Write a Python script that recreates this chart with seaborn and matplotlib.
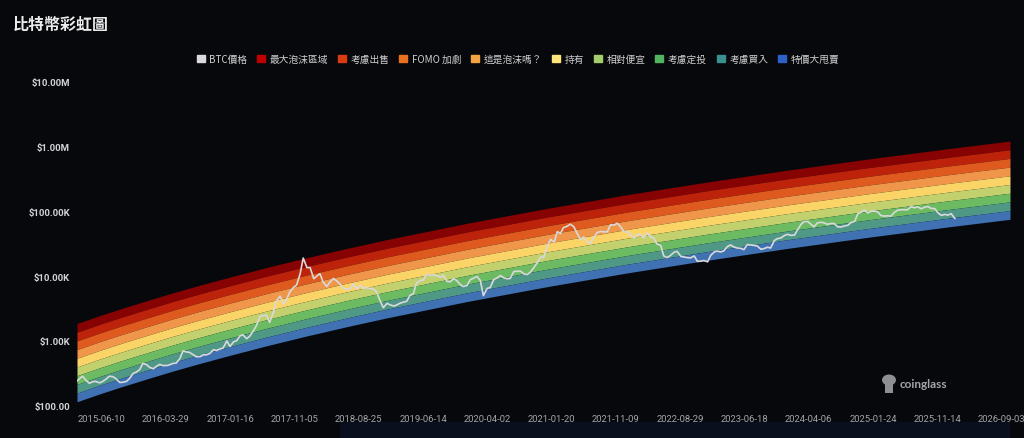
import pandas as pd
import matplotlib.pyplot as plt
import matplotlib.ticker as mticker
from matplotlib.patches import Patch, Rectangle, Ellipse
import seaborn as sns

# rainbow bands, listed top to bottom
band_names = ['最大泡沫區域', '考慮出售', 'FOMO 加劇', '這是泡沫嗎？', '持有',
              '相對便宜', '考慮定投', '考慮買入', '特價大甩賣']
band_dates = ['2015-02-18', '2015-06-01', '2015-09-01', '2016-01-01', '2016-05-01',
              '2016-09-01', '2017-01-01', '2017-07-01', '2018-01-01', '2018-07-01',
              '2019-01-01', '2020-01-01', '2021-01-01', '2022-01-01', '2023-01-01',
              '2024-01-01', '2025-01-01', '2026-01-01', '2026-10-10']
# lower edge of the lowest band (USD)
band_floor = [115, 152, 192, 258, 343, 450, 582, 841, 1194, 1656, 2270, 4055, 6890,
              11220, 17580, 26790, 39720, 57410, 75300]
band_ratio = 1.362  # each band edge is this many times the one below

# BTC price, twice a month (1st and 15th) from 2015-02-15
price_2015 = [235, 260, 285, 245, 222, 235, 237, 225, 237, 258, 285, 280, 260, 228, 230,
              237, 262, 315, 330, 362, 450]
price_2016 = [430, 390, 372, 405, 435, 415, 417, 428, 450, 455, 535, 700, 675, 665, 610,
              570, 572, 608, 612, 640, 730, 710, 750, 780]
price_2017 = [1000, 820, 970, 1010, 1190, 1240, 1080, 1180, 1420, 1700, 2400, 2450, 2500,
              1930, 2750, 4150, 4900, 3700, 4400, 5700, 6700, 7300, 10900, 19000]
price_2018 = [13500, 13600, 9100, 10000, 10900, 8200, 6900, 8000, 9200, 8500, 7500, 6500,
              6350, 6250, 7600, 6300, 7200, 6500, 6600, 6450, 6340, 5600, 4100, 3250]
price_2019 = [3800, 3600, 3450, 3600, 3820, 3950, 4100, 5030, 5350, 7800, 8550, 8700,
              10600, 10300, 10400, 10200, 9600, 10300, 8300, 8150, 9150, 8500, 7400, 6900]
price_2020 = [7200, 8800, 9350, 9900, 8550, 5000, 6450, 6650, 8800, 9300, 10200, 9450,
              9100, 9200, 11800, 11850, 11900, 10800, 10600, 11500, 13700, 16000, 19700, 19400]
price_2021 = [29400, 36800, 33500, 48700, 45200, 56000, 58800, 63300, 57800, 46500, 36700,
              40100, 33500, 31800, 39900, 47000, 48800, 48100, 48200, 61600, 61300, 65500,
              57200, 48900]
price_2022 = [47700, 43100, 38700, 44500, 43200, 39300, 46300, 40500, 38500, 31300, 29800,
              20500, 19300, 20800, 23300, 24100, 20100, 19700, 19300, 19100, 20500, 16900,
              17000, 17400]
price_2023 = [16600, 20900, 23700, 24300, 23600, 24400, 28500, 30300, 28100, 27200, 26800,
              25600, 30600, 30300, 29700, 29200, 25900, 26600, 27900, 27100, 35400, 37900,
              38700, 42000]
price_2024 = [44200, 42500, 43000, 52000, 62400, 69500, 69700, 63400, 57800, 66300, 67800,
              66200, 62900, 64800, 64600, 57500, 57300, 59200, 60800, 67000, 69500, 91000,
              97200, 104300]
price_2025 = [94400, 100500, 100600, 97500, 86000, 84300, 85200, 83700, 96500, 103700,
              105700, 105500, 105700, 117800, 113300, 117400, 109200, 115400, 118600, 111000,
              110000, 95500, 86300, 89500]
price_2026 = [87500, 92000, 77000]

x_tick_labels = ['2015-06-10', '2016-03-29', '2017-01-16', '2017-11-05', '2018-08-25',
                 '2019-06-14', '2020-04-02', '2021-01-20', '2021-11-09', '2022-08-29',
                 '2023-06-18', '2024-04-06', '2025-01-24', '2025-11-14', '2026-09-03']
y_ticks = [1e2, 1e3, 1e4, 1e5, 1e6, 1e7]
y_tick_labels = ['$100.00', '$1.00K', '$10.00K', '$100.00K', '$1.00M', '$10.00M']

band_colors = ['#870202', '#bd220b', '#df5a1e', '#ef964a', '#fbd467',
               '#c2d16e', '#6cba62', '#4f9886', '#3f71b3']
legend_colors = ['#c00000', '#d83c10', '#e8701e', '#f2a440', '#fde57c',
                 '#a2cd6a', '#50b55e', '#3a8f8f', '#2f5fc8']
bg = '#07080c'

sns.set_theme(style='dark')
plt.rcParams['font.family'] = ['Noto Sans CJK TC', 'DejaVu Sans']

prices = (price_2015 + price_2016 + price_2017 + price_2018 + price_2019 + price_2020 +
          price_2021 + price_2022 + price_2023 + price_2024 + price_2025 + price_2026)
df = pd.DataFrame({'date': pd.date_range('2015-02-15', periods=len(prices), freq='SMS'),
                   'price': prices})
bd = pd.to_datetime(band_dates)

fig = plt.figure(figsize=(10.24, 4.39), dpi=100, facecolor=bg)
ax = fig.add_axes([77 / 1024, 1 - 406.7 / 439, 933 / 1024, (406.7 - 82.7) / 439])
ax.set_facecolor(bg)
ax.set_yscale('log')

n = len(band_names)
for i in range(n):
    k = n - 1 - i  # position counted from the bottom
    lo = [f * band_ratio ** k for f in band_floor]
    hi = [f * band_ratio ** (k + 1) for f in band_floor]
    ax.fill_between(bd, lo, hi, color=band_colors[i], lw=0)

sns.lineplot(data=df, x='date', y='price', ax=ax, color='#d9d9dc', lw=1.2)

ax.set_xlim(bd[0], bd[-1])
ax.set_ylim(1e2, 1e7)
ax.yaxis.set_major_locator(mticker.FixedLocator(y_ticks))
ax.yaxis.set_major_formatter(mticker.FixedFormatter(y_tick_labels))
ax.yaxis.set_minor_locator(mticker.NullLocator())
ax.set_xticks(pd.to_datetime(x_tick_labels))
ax.set_xticklabels(x_tick_labels)
ax.set_xlabel('')
ax.set_ylabel('')
ax.grid(False)
for s in ax.spines.values():
    s.set_visible(False)
ax.tick_params(axis='x', colors='#2a2c30', length=3, width=0.8, pad=3,
               labelcolor='#a3a5a8', labelsize=6.8)
ax.tick_params(axis='y', length=0, pad=5, labelcolor='#d2d3d6', labelsize=6.8)
for lab in ax.get_xticklabels():
    lab.set_family('Roboto')
for lab in ax.get_yticklabels():
    lab.set_family('Roboto')
    lab.set_fontweight('bold')

fig.text(13 / 1024, 1 - 25 / 439, '比特幣彩虹圖', color='#ececec', fontsize=11.5,
         fontweight='bold', va='center', ha='left')

handles = [Patch(color='#d9d9de')] + [Patch(color=c) for c in legend_colors]
labels = ['BTC價格'] + band_names
fig.legend(handles, labels, loc='center', bbox_to_anchor=(0.506, 1 - 60 / 439), ncol=10,
           frameon=False, fontsize=7, labelcolor='#cfcfcf', handlelength=0.8,
           handleheight=0.8, handletextpad=0.5, columnspacing=1.0, borderaxespad=0)

# watermark
fig.patches.append(Ellipse((889 / 1024, 1 - 381 / 439), 14 / 1024, 11 / 439,
                           transform=fig.transFigure, color='#8e8f92', lw=0))
fig.patches.append(Rectangle((885 / 1024, 1 - 394 / 439), 8 / 1024, 12 / 439,
                             transform=fig.transFigure, color='#8e8f92', lw=0))
fig.text(900 / 1024, 1 - 385 / 439, 'coinglass', color='#a4a5a8', fontsize=8.5,
         fontweight='bold', family='Lato', va='center', ha='left')

# zoom slider remnant at the bottom
fig.patches.append(Rectangle((340 / 1024, 0), 670 / 1024, 16 / 439,
                             transform=fig.transFigure, color='#0a0f1d', lw=0))

fig.savefig('out.png', dpi=100, facecolor=bg)
